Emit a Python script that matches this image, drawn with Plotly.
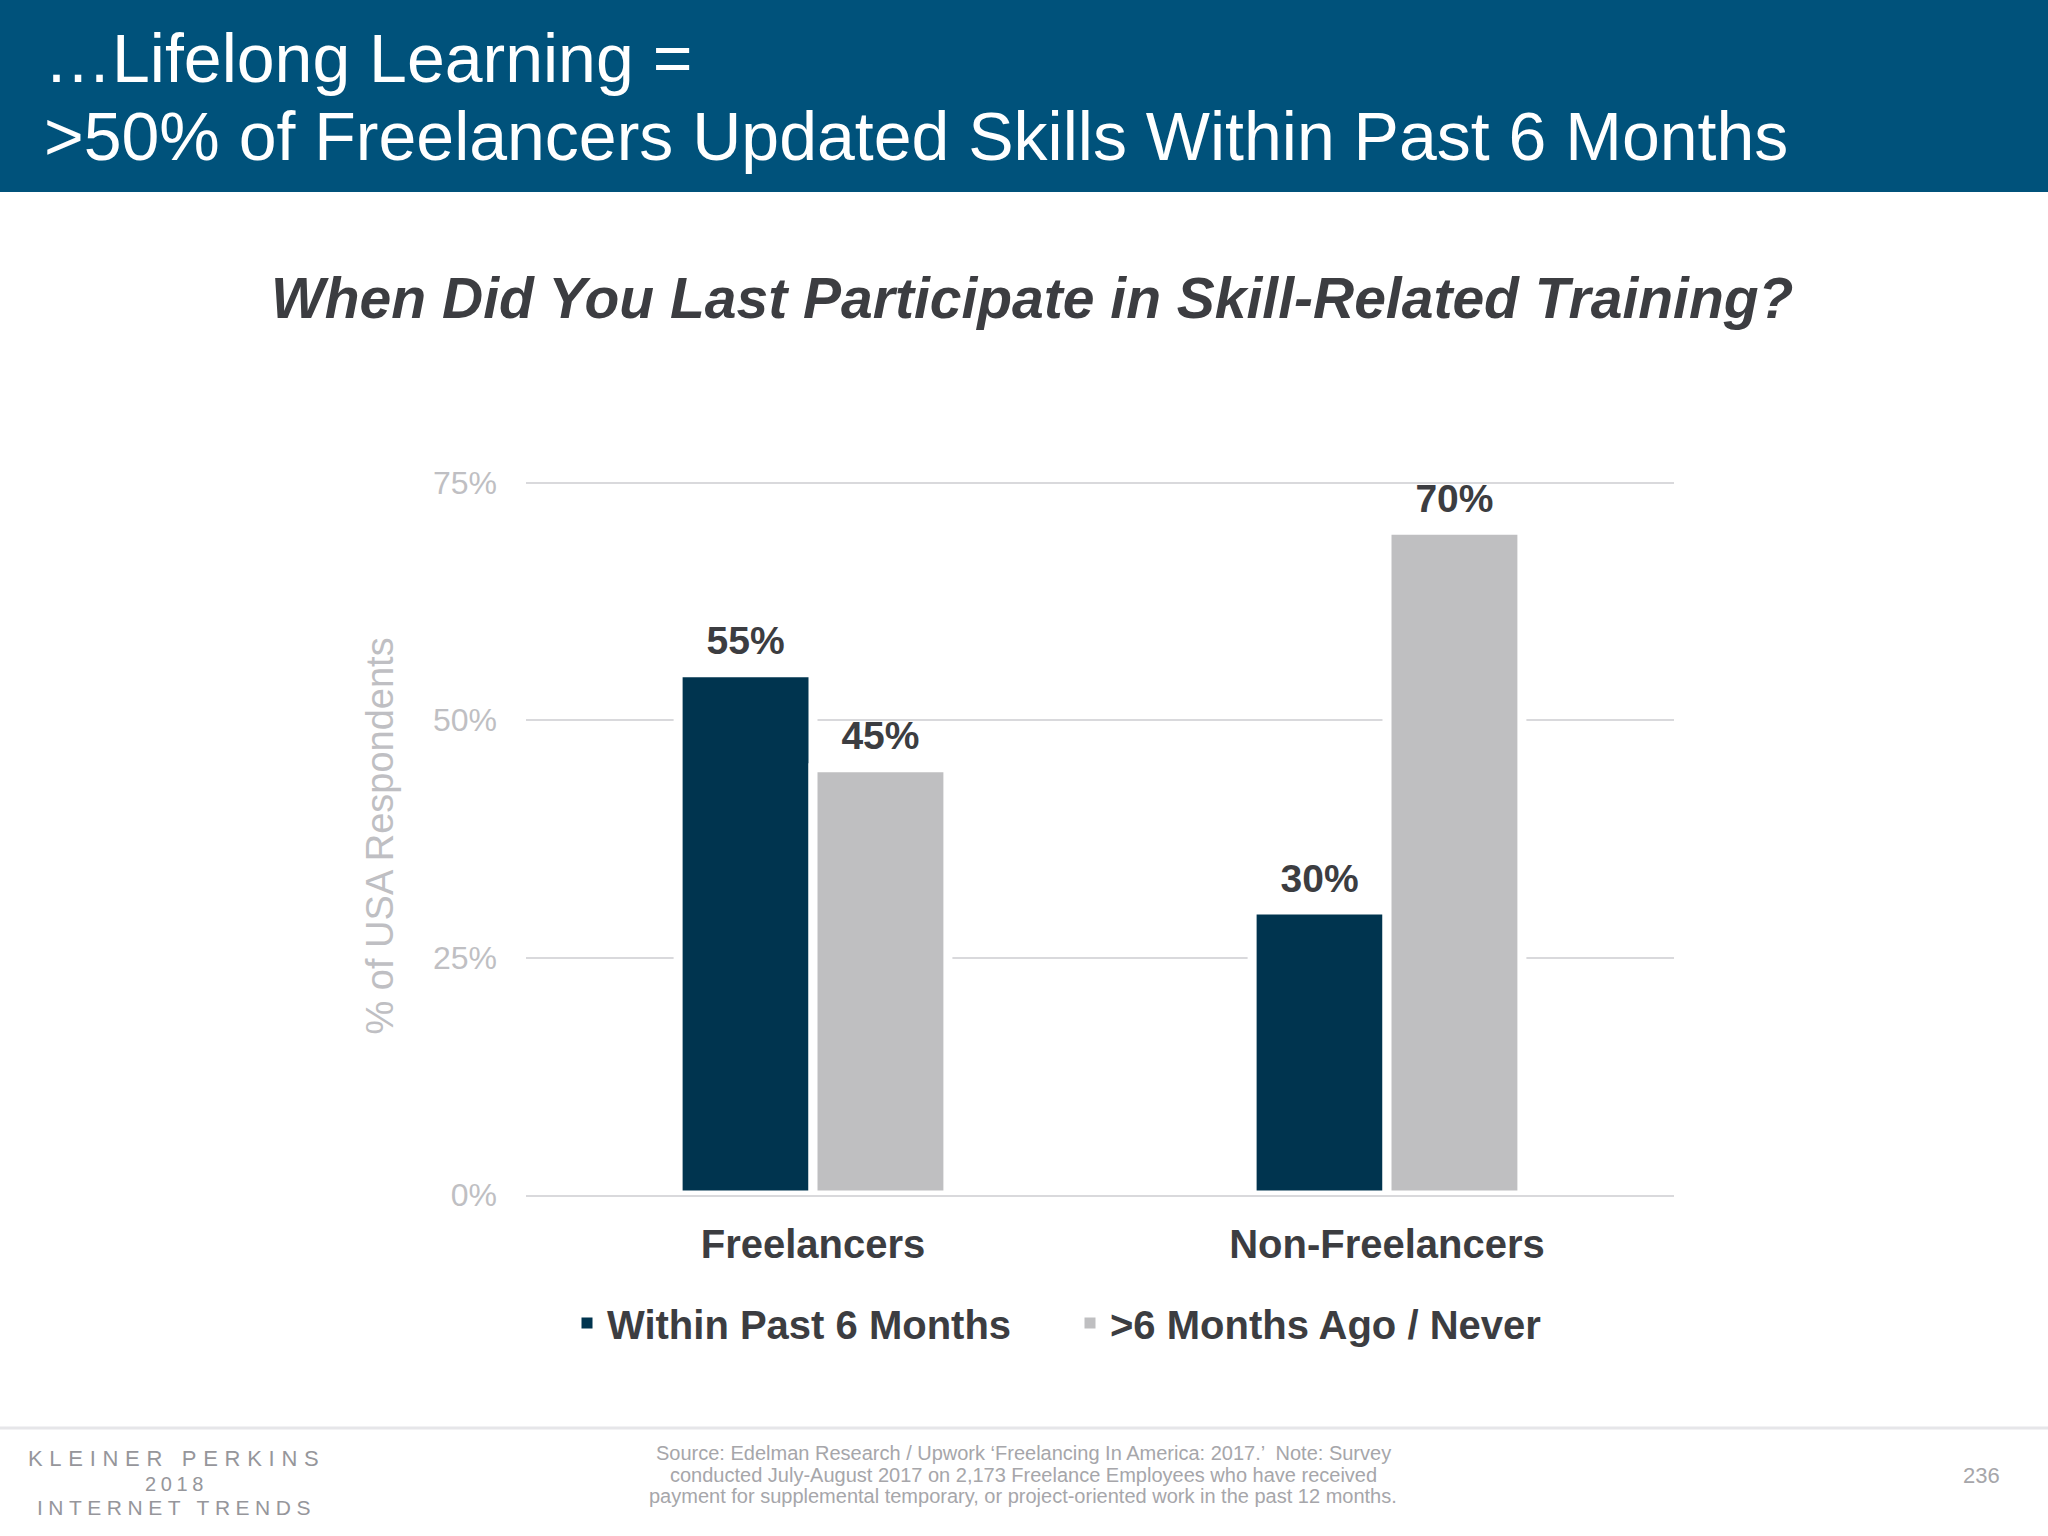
import plotly.graph_objects as go

# dados do gráfico
categorias = ["Freelancers", "Non-Freelancers"]
series = ["Within Past 6 Months", ">6 Months Ago / Never"]
dentro_6_meses = [55, 30]
mais_6_meses = [45, 70]
ticks_y = [0, 25, 50, 75]

cores = ["#00344F", "#BFBFC1"]
texto_escuro = "#3C3D41"
cinza_claro = "#BFBFC3"
fonte = "Arial, Liberation Sans, sans-serif"

W, H = 2048, 1536
ml, mr, mt, mb = 526, 374, 478, 341

# converter pixel da página para coordenada "paper"
def px(x):
    return (x - ml) / (W - ml - mr)

def py(y):
    return (H - mb - y) / (H - mt - mb)

fig = go.Figure()
for i, (nome, valores, cor) in enumerate(zip(series, [dentro_6_meses, mais_6_meses], cores)):
    fig.add_trace(go.Bar(
        x=categorias, y=valores, name=nome, showlegend=False, offsetgroup=str(i),
        marker=dict(color=cor, line=dict(color="white", width=9)),
        hoverinfo="skip",
    ))
    # rótulos em cima das barras
    fig.add_trace(go.Scatter(
        x=categorias, y=valores, mode="markers+text", offsetgroup=str(i),
        text=[f"{v}%" for v in valores], textposition="top center",
        marker=dict(size=12, opacity=0),
        textfont=dict(family=fonte, size=39, color=texto_escuro, weight="bold"),
        showlegend=False, hoverinfo="skip", cliponaxis=False,
    ))
# entradas da legenda (quadradinhos)
for nome, cor in zip(series, cores):
    fig.add_trace(go.Scatter(
        x=[None], y=[None], mode="markers", name=nome,
        marker=dict(symbol="square", size=11, color=cor),
    ))

fig.update_layout(
    width=W, height=H,
    margin=dict(l=ml, r=mr, t=mt, b=mb),
    paper_bgcolor="white", plot_bgcolor="white",
    barmode="group", bargap=0.53, bargroupgap=0,
    scattermode="group", scattergap=0.53,
    font=dict(family=fonte),
    showlegend=True,
    legend=dict(
        orientation="h", x=px(1070), y=py(1323), xanchor="center", yanchor="middle",
        font=dict(family=fonte, size=40, color=texto_escuro, weight="bold"),
        entrywidth=458, bgcolor="rgba(0,0,0,0)",
    ),
    xaxis=dict(
        showline=True, linecolor="#D9D9DC", linewidth=2, showgrid=False,
        tickfont=dict(family=fonte, size=40, color=texto_escuro, weight="bold"),
        ticklabelstandoff=13, layer="above traces",
    ),
    yaxis=dict(
        range=[0, 75.5], tickvals=ticks_y, ticktext=[f"{v}%" for v in ticks_y],
        showgrid=True, gridcolor="#D9D9DC", gridwidth=2, zeroline=False,
        tickfont=dict(family=fonte, size=32, color=cinza_claro),
        ticklabelstandoff=28,
    ),
)

shapes = [
    # faixa do título
    dict(type="rect", xref="paper", yref="paper", x0=px(0), x1=px(W), y0=py(192), y1=py(0),
         fillcolor="#00527B", line=dict(width=0), layer="below"),
    # linha do rodapé
    dict(type="line", xref="paper", yref="paper", x0=px(0), x1=px(W), y0=py(1428), y1=py(1428),
         line=dict(color="#E6E6E9", width=3)),
]
fig.update_layout(shapes=shapes)

cinza_rodape = "#A6A6AA"
logo = "#96969B"
anots = [
    dict(text="…Lifelong Learning =", x=px(42), y=py(58), xanchor="left", yanchor="middle",
         font=dict(size=68, color="white")),
    dict(text=">50% of Freelancers Updated Skills Within Past 6 Months", x=px(42), y=py(136),
         xanchor="left", yanchor="middle", font=dict(size=68, color="white")),
    dict(text="<b><i>When Did You Last Participate in Skill-Related Training?</i></b>",
         x=px(1032), y=py(298), xanchor="center", yanchor="middle",
         font=dict(size=57, color=texto_escuro)),
    dict(text="% of USA Respondents", textangle=-90, x=px(379), y=0.5,
         xanchor="center", yanchor="middle", font=dict(size=38, color=cinza_claro)),
    dict(text="Source: Edelman Research / Upwork ‘Freelancing In America: 2017.’  Note: Survey",
         x=px(1023), y=py(1453), xanchor="center", yanchor="middle",
         font=dict(size=20, color=cinza_rodape)),
    dict(text="conducted July-August 2017 on 2,173 Freelance Employees who have received",
         x=px(1023), y=py(1475), xanchor="center", yanchor="middle",
         font=dict(size=20, color=cinza_rodape)),
    dict(text="payment for supplemental temporary, or project-oriented work in the past 12 months.",
         x=px(1023), y=py(1496), xanchor="center", yanchor="middle",
         font=dict(size=20, color=cinza_rodape)),
    dict(text="236", x=px(1981), y=py(1475), xanchor="center", yanchor="middle",
         font=dict(size=22, color=cinza_rodape)),
    dict(text='<span style="letter-spacing:6.7px">KLEINER PERKINS</span>', x=px(176), y=py(1458),
         xanchor="center", yanchor="middle", font=dict(size=22, color=logo)),
    dict(text='<span style="letter-spacing:4.6px">2018</span>', x=px(176), y=py(1484),
         xanchor="center", yanchor="middle", font=dict(size=20, color=logo)),
    dict(text='<span style="letter-spacing:5.5px">INTERNET TRENDS</span>', x=px(176), y=py(1507),
         xanchor="center", yanchor="middle", font=dict(size=21, color=logo)),
]
for a in anots:
    fig.add_annotation(xref="paper", yref="paper", showarrow=False, **a)

fig.write_html("out.html", config={"displayModeBar": False},
               post_script="document.body.style.margin='0';")
